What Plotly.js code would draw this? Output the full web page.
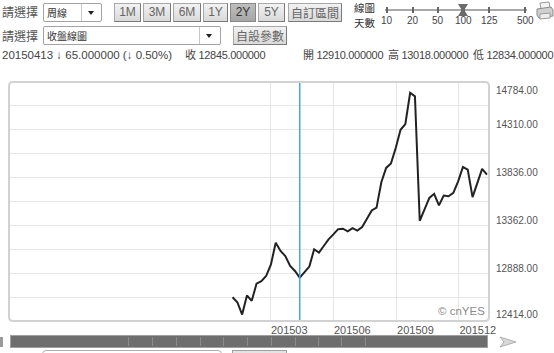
<!DOCTYPE html>
<html>
<head>
<meta charset="utf-8">
<script src="https://cdn.plot.ly/plotly-3.0.1.min.js"></script>
<style>
html,body{margin:0;padding:0;background:#fff;}
body{width:554px;height:353px;overflow:hidden;position:relative;font-family:"Liberation Sans",Arial,"Noto Sans CJK TC",sans-serif;}
#chart{position:absolute;left:0;top:0;width:554px;height:353px;}
.ui{position:absolute;white-space:nowrap;}
.t{font-size:12px;color:#555;line-height:14px;font-family:"Noto Sans CJK TC","Liberation Sans",sans-serif;}
.sel{height:17px;border:1px solid #a3a3a3;background:#fff;border-radius:2px;}
.sel .lbl{position:absolute;left:3px;top:1px;font-size:10px;line-height:15px;color:#333;font-family:"Noto Sans CJK TC",sans-serif;}
.sel .sep{position:absolute;top:0;width:1px;height:17px;background:#c8c8c8;}
.sel .arr{position:absolute;top:7px;width:0;height:0;border-left:3.5px solid transparent;border-right:3.5px solid transparent;border-top:4px solid #222;}
.btn{height:17px;border:1px solid #a8a8a8;border-right-color:#7a7a7a;border-bottom-color:#7a7a7a;background:linear-gradient(#f2f2f2,#d9d9d9);font-size:12px;color:#666;text-align:center;line-height:17px;}
.btn.cj{font-family:"Noto Sans CJK TC",sans-serif;font-size:12px;}
.btn.on{background:linear-gradient(#bdbdbd,#a6a6a6);color:#333;border-color:#888;}
.info{font-size:11px;color:#444;line-height:14px;letter-spacing:-0.3px;}
.sl{font-size:10px;color:#444;}
.tick{position:absolute;width:2px;height:6px;background:#666;top:7px;}
</style>
</head>
<body>
<div id="chart"></div>

<!-- top controls -->
<div class="ui t" style="left:2px;top:5px;">請選擇</div>
<div class="ui sel" style="left:43px;top:3px;width:57px;">
  <span class="lbl">周線</span><span class="sep" style="left:37px"></span><span class="arr" style="left:44px"></span>
</div>
<div class="ui btn" style="left:114px;top:3px;width:25px;">1M</div>
<div class="ui btn" style="left:143px;top:3px;width:26px;">3M</div>
<div class="ui btn" style="left:173px;top:3px;width:26px;">6M</div>
<div class="ui btn" style="left:203px;top:3px;width:23px;">1Y</div>
<div class="ui btn on" style="left:230px;top:3px;width:24px;">2Y</div>
<div class="ui btn" style="left:258px;top:3px;width:25px;">5Y</div>
<div class="ui btn cj" style="left:288px;top:3px;width:52px;">自訂區間</div>
<div class="ui t" style="left:354px;top:0px;font-size:10.5px;line-height:15px;color:#333;">線圖</div>
<div class="ui t" style="left:354px;top:15px;font-size:10.5px;line-height:15px;color:#333;">天數</div>

<div class="ui" style="left:385px;top:9px;width:142px;height:2px;background:#a8a8a8;"></div>
<div class="tick" style="left:386px"></div>
<div class="tick" style="left:412px"></div>
<div class="tick" style="left:437px"></div>
<div class="tick" style="left:488px"></div>
<div class="tick" style="left:524px"></div>
<div class="ui" style="left:458px;top:4px;width:10px;height:12px;background:#6a6a6a;clip-path:polygon(0 0,100% 0,70% 40%,70% 60%,100% 100%,0 100%,30% 60%,30% 40%);"></div>
<div class="ui sl" style="left:381px;top:15px;">10</div>
<div class="ui sl" style="left:407px;top:15px;">20</div>
<div class="ui sl" style="left:432px;top:15px;">50</div>
<div class="ui sl" style="left:455px;top:15px;">100</div>
<div class="ui sl" style="left:481px;top:15px;">125</div>
<div class="ui sl" style="left:517px;top:15px;">500</div>
<svg class="ui" style="left:536px;top:1px;" width="18" height="19" viewBox="0 0 18 19">
  <path d="M4 2 L13 1 L14 7 L5 8 Z" fill="#f4f4f4" stroke="#9a9a9a" stroke-width="1"/>
  <path d="M1 8 L15 6 L17 9 L17 15 L3 17 L1 14 Z" fill="#cfcfcf" stroke="#8a8a8a" stroke-width="1"/>
  <path d="M4 13 L14 12 L14 17 L4 18 Z" fill="#eee" stroke="#999" stroke-width="1"/>
</svg>

<div class="ui t" style="left:2px;top:29px;">請選擇</div>
<div class="ui sel" style="left:43px;top:26px;width:176px;">
  <span class="lbl">收盤線圖</span><span class="sep" style="left:155px"></span><span class="arr" style="left:162px"></span>
</div>
<div class="ui btn cj" style="left:233px;top:26px;width:52px;">自設參數</div>

<div class="ui info" style="left:2px;top:48px;font-size:11.5px;letter-spacing:0;">20150413 ↓ 65.000000 (↓ 0.50%)</div>
<div class="ui info" style="left:185px;top:48px;">收 12845.000000</div>
<div class="ui info" style="left:303px;top:48px;">開 12910.000000</div>
<div class="ui info" style="left:388px;top:48px;">高 13018.000000</div>
<div class="ui info" style="left:473px;top:48px;">低 12834.000000</div>

<!-- bottom scrollbar -->
<div class="ui" style="left:0px;top:337px;width:3px;height:10px;background:#9a9a9a;"></div>
<div class="ui" id="bar" style="left:10px;top:335px;width:476px;height:11px;background:#6e6e6e;border:1px solid #a0a0a0;"></div>
<svg class="ui" style="left:499px;top:336px;" width="18" height="12" viewBox="0 0 18 12">
  <path d="M1 1 L17 6 L1 11 L5 6 Z" fill="#d8d8d8" stroke="#b0b0b0" stroke-width="1"/>
</svg>
<div class="ui" style="left:42px;top:350px;width:178px;height:10px;border:1px solid #b0b0b0;border-radius:4px;background:#fff;"></div>
<div class="ui" style="left:232px;top:350px;width:53px;height:10px;border:1px solid #a0a0a0;background:#e4e4e4;"></div>

<script>
// ---- data (weekly closes) ----
var dates = ['2015-01-05','2015-01-12','2015-01-19','2015-01-26','2015-02-02','2015-02-09','2015-02-16','2015-02-23',
  '2015-03-02','2015-03-09','2015-03-16','2015-03-23','2015-03-30','2015-04-06','2015-04-13','2015-04-20','2015-04-27',
  '2015-05-04','2015-05-11','2015-05-18','2015-05-25','2015-06-01','2015-06-08','2015-06-15','2015-06-22','2015-06-29',
  '2015-07-06','2015-07-13','2015-07-20','2015-07-27','2015-08-03','2015-08-10','2015-08-17','2015-08-24','2015-08-31',
  '2015-09-07','2015-09-14','2015-09-21','2015-09-28','2015-10-05','2015-10-12','2015-10-19','2015-10-26','2015-11-02',
  '2015-11-09','2015-11-16','2015-11-23','2015-11-30','2015-12-07','2015-12-14','2015-12-21','2015-12-28','2016-01-04',
  '2016-01-11'];
var closes = [12650,12600,12478,12668,12614,12785,12810,12860,
  12975,13191,13108,13059,12960,12910,12845,12901,12954,
  13125,13092,13158,13224,13273,13325,13329,13303,13335,
  13310,13345,13432,13510,13538,13790,13932,13976,14130,
  14310,14366,14677,14642,13408,13520,13635,13675,13560,
  13658,13651,13685,13799,13941,13915,13642,13784,13922,
  13866];
var cursorDate = '2015-04-13';
var xTickVals = ['2015-03-01','2015-06-01','2015-09-01','2015-12-01'];
var xTickText = ['201503','201506','201509','201512'];
var yGridVals = [12414,12651,12888,13125,13362,13599,13836,14073,14310,14547,14784];
var yLabelVals = [12414,12888,13362,13836,14310,14784];
var yMin = 12414, yMax = 14784;

// bar segment marks
var segX = [128,152,176,200,223,247,271,295,318,341,365];
var bar = document.getElementById('bar');
segX.forEach(function(x){
  var d = document.createElement('div');
  d.style.cssText = 'position:absolute;top:1px;height:9px;width:1px;background:#8c8c8c;left:'+(x-11)+'px';
  bar.appendChild(d);
});

var font = '"Liberation Sans", Arial, sans-serif';
var ann = yLabelVals.map(function(v){
  var ys = (v === yMax) ? -8 : (v === yMin ? 7 : 5);
  return {xref:'paper', yref:'y', x:1, y:v, xanchor:'left', yanchor:'middle', xshift:5, yshift:ys,
    text: v.toFixed(2), showarrow:false, font:{family:font, size:10, color:'#555'}};
});
ann.push({xref:'paper', yref:'paper', x:1, y:0, xanchor:'right', yanchor:'bottom', xshift:-2, yshift:2,
  text:'© cnYES', showarrow:false, font:{family:font, size:11.5, color:'#8a8a8a'}});

var rx = 4/480, ry = 4/239;
var borderPath = 'M '+rx+',0 L '+(1-rx)+',0 Q 1,0 1,'+ry+' L 1,'+(1-ry)+' Q 1,1 '+(1-rx)+',1 L '+rx+',1 Q 0,1 0,'+(1-ry)+' L 0,'+ry+' Q 0,0 '+rx+',0 Z';

var trace = {x:dates, y:closes, type:'scatter', mode:'lines',
  line:{color:'#222222', width:2}, hoverinfo:'skip'};

var layout = {
  width:554, height:353,
  margin:{l:9, r:65, t:82, b:32},
  paper_bgcolor:'rgba(0,0,0,0)', plot_bgcolor:'#ffffff',
  showlegend:false,
  xaxis:{type:'date', range:['2014-02-13','2016-01-14'], tickmode:'array', tickvals:xTickVals, ticktext:xTickText,
    showgrid:true, gridcolor:'#e6e6e6', gridwidth:1, zeroline:false, showline:false, ticks:'',
    ticklabelshift:19, ticklabelstandoff:1,
    tickfont:{family:font, size:11, color:'#555'}, fixedrange:true},
  yaxis:{range:[yMin, yMax], tickmode:'array', tickvals:yGridVals, showticklabels:false,
    showgrid:true, gridcolor:'#e6e6e6', gridwidth:1, zeroline:false, showline:false, ticks:'', fixedrange:true},
  shapes:[
    {type:'line', xref:'x', yref:'paper', x0:cursorDate, x1:cursorDate, y0:0, y1:1,
      line:{color:'#4aa3ef', width:1.5}},
    {type:'path', xref:'paper', yref:'paper', path:borderPath, line:{color:'#d2d2d2', width:2}, layer:'above'}
  ],
  annotations:ann
};
Plotly.newPlot('chart', [trace], layout, {staticPlot:true, displayModeBar:false});
</script>
</body>
</html>
